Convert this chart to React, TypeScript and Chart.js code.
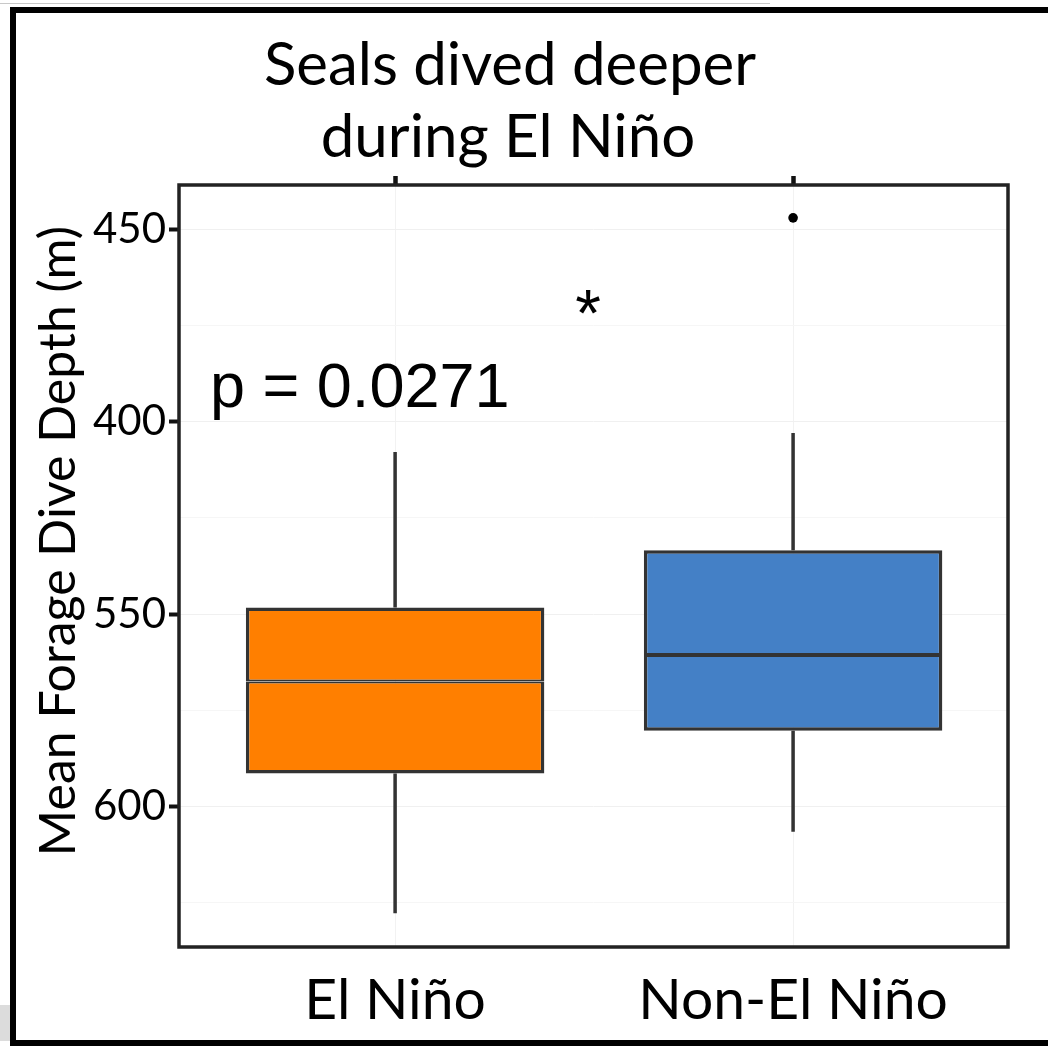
import React, { useEffect, useRef } from 'react';
import { Chart, registerables } from 'chart.js';

Chart.register(...registerables);

// ---------- data ----------
const CATEGORIES = ['El Niño', 'Non-El Niño'];
const CATEGORY_X = [1, 2];
const WHISKER_TOP = [507.9, 503.0];
const Q1 = [548.3, 533.4];
const MEDIAN = [567.5, 560.6];
const Q3 = [591.4, 580.3];
const WHISKER_BOTTOM = [627.7, 606.5];
const OUTLIER_X = [2];
const OUTLIER_Y = [447.1];
const Y_TICK_VALUES = [450, 500, 550, 600];
const Y_TICK_LABELS = ['450', '400', '550', '600'];
const Y_MINOR_VALUES = [475, 525, 575, 625];
const TITLE_LINES = ['Seals dived deeper', 'during El Niño'];
const Y_TITLE = 'Mean Forage Dive Depth (m)';
const P_TEXT = 'p = 0.0271';
const SIG_MARK = '*';

// ---------- scale ranges & styles ----------
const X_MIN = 0.457;
const X_MAX = 2.54;
const Y_MIN = 438.57;
const Y_MAX = 636.44;
const BOX_COLORS = ['#FF7F00', '#4480C6'];
const LINE_COLOR = '#333333';
const CALIBRI = 'Lato, Carlito, Calibri, sans-serif';
const ARIAL = '"Liberation Sans", Arial, sans-serif';

const decorations = {
  id: 'decorations',
  afterDraw(chart: any) {
    const ctx = chart.ctx as CanvasRenderingContext2D;
    const a = chart.chartArea;
    ctx.save();
    // panel border
    ctx.strokeStyle = '#222222';
    ctx.lineWidth = 3.5;
    ctx.strokeRect(a.left, a.top, a.right - a.left, a.bottom - a.top);

    ctx.fillStyle = '#000';
    // title
    ctx.font = `60px ${CALIBRI}`;
    ctx.textAlign = 'center';
    ctx.textBaseline = 'alphabetic';
    ctx.fillText(TITLE_LINES[0], 510, 85);
    ctx.fillText(TITLE_LINES[1], 508, 157);

    // y-axis title
    ctx.save();
    ctx.translate(75, 541);
    ctx.rotate(-Math.PI / 2);
    ctx.font = `50px ${CALIBRI}`;
    ctx.textAlign = 'center';
    ctx.fillText(Y_TITLE, 0, 0);
    ctx.restore();

    // p-value
    ctx.font = `63px ${ARIAL}`;
    ctx.textAlign = 'left';
    ctx.fillText(P_TEXT, 210, 407);

    // significance mark
    ctx.font = `66px ${ARIAL}`;
    ctx.textAlign = 'center';
    ctx.fillText(SIG_MARK, 588, 336);

    // slide frame
    ctx.fillStyle = '#000';
    ctx.fillRect(10, 7, 6, 1039);
    ctx.fillRect(10, 7, 1038, 6);
    ctx.fillRect(10, 1040, 1038, 6);
    ctx.fillStyle = '#c8c8c8';
    ctx.fillRect(0, 3, 770, 1);
    ctx.fillStyle = '#dcdcdc';
    ctx.fillRect(0, 1005, 10, 36);
    ctx.restore();
  },
};

export default function App() {
  const ref = useRef<HTMLCanvasElement>(null);

  useEffect(() => {
    const canvas = ref.current;
    if (!canvas) return;

    const upperHalf = {
      type: 'bar',
      label: 'box upper',
      xAxisID: 'x',
      yAxisID: 'y',
      data: CATEGORY_X.map((x, i) => ({ x, y: [Q1[i], MEDIAN[i]] })),
      backgroundColor: BOX_COLORS,
      borderColor: LINE_COLOR,
      borderWidth: { top: 3.5, left: 3.5, right: 3.5, bottom: 2 },
      borderSkipped: false,
      grouped: false,
      categoryPercentage: 1,
      barPercentage: 0.75,
      order: 0,
    };
    const lowerHalf = {
      type: 'bar',
      label: 'box lower',
      xAxisID: 'x',
      yAxisID: 'y',
      data: CATEGORY_X.map((x, i) => ({ x, y: [MEDIAN[i], Q3[i]] })),
      backgroundColor: BOX_COLORS,
      borderColor: LINE_COLOR,
      borderWidth: { top: 2, left: 3.5, right: 3.5, bottom: 3.5 },
      borderSkipped: false,
      grouped: false,
      categoryPercentage: 1,
      barPercentage: 0.75,
      order: 0,
    };
    const whiskers = CATEGORY_X.map((x, i) => ({
      type: 'line',
      label: 'whisker ' + CATEGORIES[i],
      xAxisID: 'x',
      yAxisID: 'y',
      data: [
        { x, y: WHISKER_TOP[i] },
        { x, y: Q1[i] },
        { x, y: null },
        { x, y: Q3[i] },
        { x, y: WHISKER_BOTTOM[i] },
      ],
      borderColor: LINE_COLOR,
      borderWidth: 3.5,
      pointRadius: 0,
      fill: false,
      spanGaps: false,
      order: 2,
    }));
    const outliers = {
      type: 'scatter',
      label: 'outliers',
      xAxisID: 'x',
      yAxisID: 'y',
      data: OUTLIER_X.map((x, i) => ({ x, y: OUTLIER_Y[i] })),
      backgroundColor: '#000',
      borderWidth: 0,
      pointRadius: 4.8,
      order: 1,
    };

    const catTicks = (s: any) => {
      s.ticks = CATEGORY_X.map((v) => ({ value: v }));
    };
    const isMajor = (v: number) => Y_TICK_VALUES.indexOf(v) >= 0;

    const chart = new Chart(canvas, {
      type: 'bar',
      data: { datasets: [upperHalf, lowerHalf, ...whiskers, outliers] as any },
      options: {
        responsive: false,
        animation: false,
        devicePixelRatio: 1,
        layout: { padding: { left: 0, right: 40, top: 0, bottom: 0 } },
        plugins: {
          legend: { display: false },
          tooltip: { enabled: false },
          title: { display: false },
        },
        scales: {
          x: {
            type: 'linear',
            axis: 'x',
            position: 'bottom',
            offset: false,
            min: X_MIN,
            max: X_MAX,
            afterBuildTicks: catTicks,
            afterFit: (s: any) => {
              s.height = 99;
            },
            ticks: {
              autoSkip: false,
              maxRotation: 0,
              padding: 19,
              color: '#000',
              font: { family: CALIBRI, size: 57 },
              callback: (v: any) => {
                const i = CATEGORY_X.indexOf(Number(v));
                return i >= 0 ? CATEGORIES[i] : '';
              },
            },
            grid: { offset: false, color: '#f2f2f2', lineWidth: 1, drawTicks: false },
            border: { display: false },
          },
          xTop: {
            type: 'linear',
            axis: 'x',
            position: 'top',
            offset: false,
            min: X_MIN,
            max: X_MAX,
            afterBuildTicks: catTicks,
            afterFit: (s: any) => {
              s.height = 185;
            },
            ticks: { display: false },
            grid: {
              offset: false,
              drawOnChartArea: false,
              drawTicks: true,
              tickLength: 9,
              tickWidth: 4.5,
              tickColor: '#111',
            },
            border: { display: false },
          },
          y: {
            type: 'linear',
            position: 'left',
            reverse: true,
            min: Y_MIN,
            max: Y_MAX,
            afterBuildTicks: (s: any) => {
              s.ticks = [...Y_TICK_VALUES, ...Y_MINOR_VALUES]
                .sort((p, q) => p - q)
                .map((v) => ({ value: v }));
            },
            afterFit: (s: any) => {
              s.width = 179;
            },
            ticks: {
              autoSkip: false,
              padding: 3,
              color: '#000',
              font: { family: CALIBRI, size: 42 },
              callback: (v: any) => {
                const i = Y_TICK_VALUES.indexOf(Number(v));
                return i >= 0 ? Y_TICK_LABELS[i] : '';
              },
            },
            grid: {
              color: (c: any) => (c.tick && isMajor(c.tick.value) ? '#f0f0f0' : '#f6f6f6'),
              tickColor: (c: any) => (c.tick && isMajor(c.tick.value) ? '#111' : 'rgba(0,0,0,0)'),
              lineWidth: 1,
              tickLength: 10,
              tickWidth: 4,
            },
            border: { display: false },
          },
        },
      } as any,
      plugins: [decorations],
    });

    return () => chart.destroy();
  }, []);

  return (
    <div style={{ position: 'absolute', left: 0, top: 0, width: 1048, height: 1046, background: '#fff' }}>
      <canvas ref={ref} width={1048} height={1046} style={{ display: 'block', width: 1048, height: 1046 }} />
    </div>
  );
}
